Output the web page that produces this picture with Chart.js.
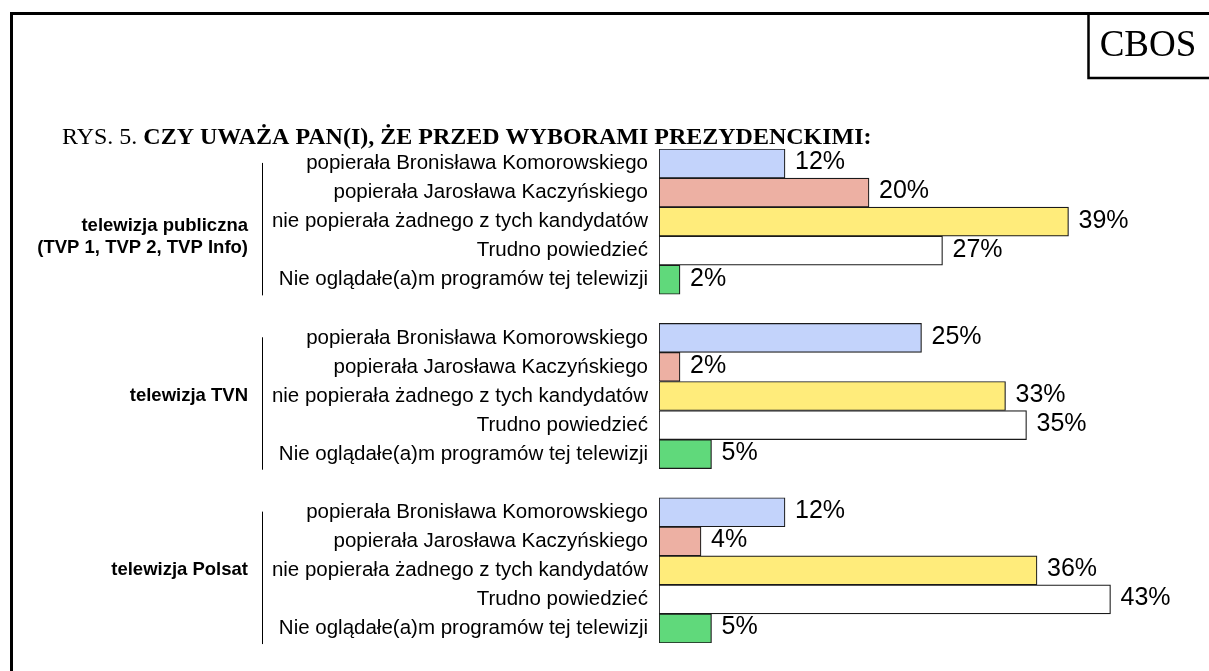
<!DOCTYPE html>
<html>
<head>
<meta charset="utf-8">
<script src="https://cdn.jsdelivr.net/npm/chart.js"></script>
<style>
  html, body { margin: 0; padding: 0; background: #fff; }
  #wrap { width: 1209px; height: 671px; position: relative; }
</style>
</head>
<body>
<div id="wrap"><canvas id="myChart" width="1209" height="671"></canvas></div>
<script>
// data
const groups = [
    ['telewizja publiczna', '(TVP 1, TVP 2, TVP Info)'],
    ['telewizja TVN'],
    ['telewizja Polsat']
];
const answers = [
    'popierała Bronisława Komorowskiego',
    'popierała Jarosława Kaczyńskiego',
    'nie popierała żadnego z tych kandydatów',
    'Trudno powiedzieć',
    'Nie oglądałe(a)m programów tej telewizji'
];
const valuesTVP = [12, 20, 39, 27, 2];
const valuesTVN = [25, 2, 33, 35, 5];
const valuesPolsat = [12, 4, 36, 43, 5];
const answerColors = ['#c3d3fb', '#edb0a3', '#ffec7b', '#ffffff', '#60d97b'];

// build one category axis: 5 answers per group, one empty row between groups
const allValues = [valuesTVP, valuesTVN, valuesPolsat];
var labels = [];
var data = [];
var colors = [];
var groupRows = [];
allValues.forEach(function (vals, g) {
    if (g > 0) {
        labels.push('');
        data.push(null);
        colors.push('#fff');
    }
    groupRows.push(labels.length);
    vals.forEach(function (v, i) {
        labels.push(answers[i]);
        data.push(v);
        colors.push(answerColors[i]);
    });
});

const sans = 'Liberation Sans, Arial, sans-serif';
const serif = 'Liberation Serif, Times New Roman, serif';

const extras = {
    id: 'extras',
    afterDraw: function (chart) {
        const ctx = chart.ctx;
        const yScale = chart.scales.y;
        ctx.save();
        // page frame
        ctx.strokeStyle = '#000';
        ctx.lineWidth = 3;
        ctx.beginPath();
        ctx.moveTo(11.5, 671);
        ctx.lineTo(11.5, 13.5);
        ctx.lineTo(1209, 13.5);
        ctx.stroke();
        // CBOS box
        ctx.lineWidth = 2.5;
        ctx.beginPath();
        ctx.moveTo(1088.5, 13);
        ctx.lineTo(1088.5, 78);
        ctx.lineTo(1209, 78);
        ctx.stroke();
        ctx.fillStyle = '#000';
        ctx.textAlign = 'center';
        ctx.textBaseline = 'middle';
        ctx.font = '37px ' + serif;
        ctx.fillText('CBOS', 1148, 46);

        // title
        ctx.textAlign = 'left';
        ctx.font = '24px ' + serif;
        const part1 = 'RYS. 5. ';
        ctx.fillText(part1, 62, 138);
        const w1 = ctx.measureText(part1).width;
        ctx.font = 'bold 24px ' + serif;
        ctx.fillText('CZY UWAŻA PAN(I), ŻE PRZED WYBORAMI PREZYDENCKIMI:', 62 + w1, 138);

        // value labels
        const meta = chart.getDatasetMeta(0);
        ctx.font = '25px ' + sans;
        ctx.textAlign = 'left';
        meta.data.forEach(function (bar, i) {
            if (data[i] === null) return;
            ctx.fillText(data[i] + '%', bar.x + 10, bar.y - 1);
        });

        // group labels and separator lines
        groupRows.forEach(function (start, g) {
            const top = yScale.getPixelForValue(start) - 14.6;
            const bottom = yScale.getPixelForValue(start + 4) + 14.6;
            ctx.strokeStyle = '#000';
            ctx.lineWidth = 1;
            ctx.beginPath();
            ctx.moveTo(262.5, top + 14);
            ctx.lineTo(262.5, bottom + 1);
            ctx.stroke();
            const mid = yScale.getPixelForValue(start + 2);
            const lines = groups[g];
            ctx.font = 'bold 18.5px ' + sans;
            ctx.textAlign = 'right';
            lines.forEach(function (t, k) {
                const off = lines.length > 1 ? 4 + k * 22 : 0;
                ctx.fillText(t, 248, mid + off);
            });
        });
        ctx.restore();
    }
};

const ctx = document.getElementById('myChart').getContext('2d');
const myChart = new Chart(ctx, {
    type: 'bar',
    data: {
        labels: labels,
        datasets: [{
            data: data,
            backgroundColor: colors,
            borderColor: '#1a1a1a',
            borderWidth: 1.2,
            borderSkipped: false,
            barPercentage: 1,
            categoryPercentage: 1
        }]
    },
    options: {
        indexAxis: 'y',
        responsive: false,
        animation: false,
        layout: { padding: { top: 149, bottom: 28, left: 0, right: 25 } },
        plugins: {
            legend: { display: false },
            tooltip: { enabled: false }
        },
        scales: {
            x: { min: 0, max: 50, display: false },
            y: {
                grid: { display: false, drawTicks: false },
                border: { display: false },
                ticks: {
                    color: '#000',
                    padding: 11,
                    autoSkip: false,
                    font: { family: sans, size: 20.5 }
                },
                afterFit: function (scale) {
                    scale.width = 659;
                }
            }
        }
    },
    plugins: [extras]
});
</script>
</body>
</html>
